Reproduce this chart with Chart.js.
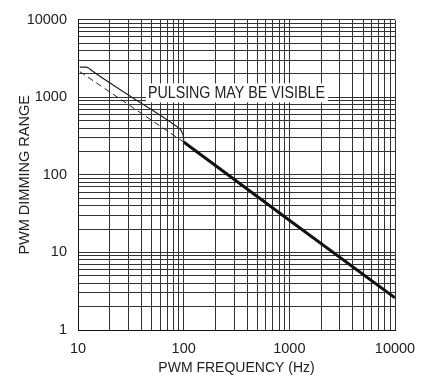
<!DOCTYPE html>
<html>
<head>
<meta charset="utf-8">
<script src="https://cdn.jsdelivr.net/npm/chart.js@4.4.1/dist/chart.umd.min.js"></script>
<style>
  html, body { margin: 0; padding: 0; background: #fff; }
  #wrap { width: 427px; height: 381px; }
</style>
</head>
<body>
<div id="wrap"><canvas id="c" width="427" height="381"></canvas></div>
<script>
// ---- data ----
const xMajorTicks = [10, 100, 1000, 10000];
const yMajorTicks = [1, 10, 100, 1000, 10000];
const xGridValues = [10,20,30,40,50,60,70,80,90,100,200,300,400,500,600,700,800,900,1000,2000,3000,4000,5000,6000,7000,8000,9000,10000];
const yGridValues = [1,2,3,4,5,6,7,8,9,10,20,30,40,50,60,70,80,90,100,200,300,400,500,600,700,800,900,1000,2000,3000,4000,5000,6000,7000,8000,9000,10000];

// thick limit line (Hz, dimming range)
const limitFreq  = [100, 1000, 10000];
const limitRange = [265, 26, 2.6];
// dashed extension below 100Hz
const dashedFreq  = [10.4, 100];
const dashedRange = [2140, 265];
// thin boundary of the "pulsing may be visible" region
const boundaryFreq  = [10.4, 11.8, 12.6, 13.2, 31, 86, 93, 97, 99.5, 100];
const boundaryRange = [2450, 2450, 2380, 2260, 1040, 420, 385, 345, 305, 270];

const regionLabel = 'PULSING MAY BE VISIBLE';
const xTitle = 'PWM FREQUENCY (Hz)';
const yTitle = 'PWM DIMMING RANGE';

const FONT = '"Liberation Sans", Arial, Helvetica, sans-serif';

function pts(xs, ys) { return xs.map((x, i) => ({ x: x, y: ys[i] })); }

const labelPlugin = {
  id: 'regionLabel',
  beforeDatasetsDraw(chart) {
    const ctx = chart.ctx;
    const xs = chart.scales.x, ys = chart.scales.y;
    const px = xs.getPixelForValue(45.9);
    const py = ys.getPixelForValue(1157);
    const maxW = 177;
    ctx.save();
    ctx.font = '16.5px ' + FONT;
    const w = Math.min(ctx.measureText(regionLabel).width, maxW);
    ctx.fillStyle = '#fff';
    ctx.fillRect(px - 2, py - 9, w + 5, 19);
    ctx.fillStyle = '#222';
    ctx.textBaseline = 'middle';
    ctx.textAlign = 'left';
    ctx.fillText(regionLabel, px, py + 1, maxW);
    ctx.restore();
  }
};

new Chart(document.getElementById('c'), {
  type: 'scatter',
  data: {
    datasets: [
      { data: pts(limitFreq, limitRange), showLine: true, borderColor: '#111', borderWidth: 3, pointRadius: 0, tension: 0 },
      { data: pts(dashedFreq, dashedRange), showLine: true, borderColor: '#222', borderWidth: 1, borderDash: [6, 4], pointRadius: 0 },
      { data: pts(boundaryFreq, boundaryRange), showLine: true, borderColor: '#222', borderWidth: 1.2, pointRadius: 0, cubicInterpolationMode: 'monotone' }
    ]
  },
  options: {
    responsive: false,
    animation: false,
    events: [],
    layout: { padding: { left: 0, right: 32, top: 14, bottom: 0 } },
    plugins: { legend: { display: false }, tooltip: { enabled: false } },
    scales: {
      x: {
        type: 'logarithmic',
        min: 10, max: 10000,
        afterBuildTicks(scale) { scale.ticks = xGridValues.map(v => ({ value: v })); },
        afterFit(scale) { scale.height = 51; },
        grid: { color: '#333', lineWidth: 1, drawTicks: false },
        border: { color: '#111', width: 1 },
        ticks: {
          autoSkip: false, maxRotation: 0, padding: 10,
          color: '#222', font: { family: FONT, size: 14.5 },
          callback: (v) => xMajorTicks.includes(v) ? String(v) : ''
        },
        title: { display: true, text: xTitle, color: '#222', font: { family: FONT, size: 14 }, padding: { top: 0, bottom: 4 } }
      },
      y: {
        type: 'logarithmic',
        min: 1, max: 10000,
        afterBuildTicks(scale) { scale.ticks = yGridValues.map(v => ({ value: v })); },
        afterFit(scale) { scale.width = 78; },
        grid: { color: '#333', lineWidth: 1, drawTicks: false },
        border: { color: '#111', width: 1 },
        ticks: {
          autoSkip: false, padding: 11,
          color: '#222', font: { family: FONT, size: 14.5 },
          callback: (v) => yMajorTicks.includes(v) ? String(v) : ''
        },
        title: { display: true, text: yTitle, color: '#222', font: { family: FONT, size: 14.5 }, padding: { top: 16, bottom: 0 } }
      }
    }
  },
  plugins: [labelPlugin]
});
</script>
</body>
</html>
